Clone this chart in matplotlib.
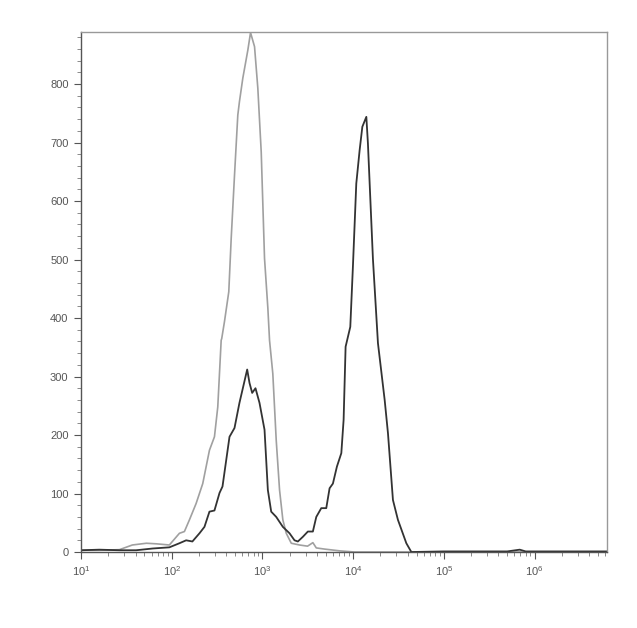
import matplotlib
matplotlib.use("Agg")
import matplotlib.pyplot as plt
from matplotlib.ticker import LogLocator, MultipleLocator, NullFormatter

plt.rcParams['font.family'] = ['Liberation Sans', 'DejaVu Sans']

# Control (gray) histogram
gray_x = [10, 15.9, 26.5, 36.8, 52.6, 67.8, 94.2, 121.6, 138, 156.8, 185.8, 219.8,
          260.6, 295.9, 321.9, 351, 356, 381.7, 425.8, 452.6, 492.3, 535.3, 558.2,
          607.7, 690.6, 739.6, 818.7, 890, 970, 1055, 1148, 1198, 1302, 1420, 1545,
          1680, 1832, 2080, 2566, 3145, 3600, 3926, 4846, 7096, 10400, 100000, 6.3e6]
gray_y = [3, 3, 4, 12, 15, 14, 12, 32, 35, 55, 83, 117,
          174, 197, 248, 362, 365, 394, 445, 536, 644, 747, 770,
          810, 858, 888, 864, 793, 684, 502, 417, 362, 305, 191, 106,
          55, 32, 15, 12, 10, 16, 7, 5, 2, 0, 0, 0]

# Stained sample (dark) histogram
dark_x = [10, 15.9, 26.5, 40.5, 61.7, 94.2, 121.6, 144.2, 169, 202.3, 229.6, 260.6,
          295.9, 336.5, 363, 433.6, 492.3, 558.2, 679.3, 720.6, 771, 838.8, 928.6,
          1055, 1148, 1250, 1420, 1680, 1991, 2260, 2460, 2793, 3170, 3600, 3926,
          4456, 5058, 5503, 5988, 6627, 7413, 7857, 8265, 9309, 9950, 10840, 11800,
          12640, 13990, 14560, 16540, 18790, 22280, 24230, 27490, 31200, 38620,
          43850, 100000, 500000, 687000, 800000, 6.3e6]
dark_y = [3, 4, 3, 3, 6, 8, 15, 20, 18, 32, 43, 69,
          71, 101, 112, 197, 212, 255, 312, 289, 272, 280, 255,
          209, 106, 69, 60, 43, 32, 20, 18, 26, 35, 35, 60,
          75, 75, 109, 117, 146, 169, 226, 351, 385, 488, 630, 687,
          727, 744, 699, 501, 357, 260, 203, 89, 55, 15,
          0, 1, 1, 4, 1, 1]

y_ticks = [0, 100, 200, 300, 400, 500, 600, 700, 800]

fig = plt.figure(figsize=(6.37, 6.28), dpi=100)
ax = fig.add_axes([0.1272, 0.121, 0.8257, 0.828])

ax.plot(gray_x, gray_y, color='#a0a0a0', lw=1.2)
ax.plot(dark_x, dark_y, color='#333333', lw=1.3)

ax.set_xscale('log')
ax.set_xlim(10, 6.3e6)
ax.set_ylim(0, 889)

ax.set_yticks(y_ticks)
ax.yaxis.set_minor_locator(MultipleLocator(20))
ax.xaxis.set_major_locator(LogLocator(base=10, numticks=20))
ax.xaxis.set_minor_locator(LogLocator(base=10, subs=range(2, 10), numticks=50))
ax.xaxis.set_minor_formatter(NullFormatter())

ax.tick_params(axis='both', which='major', direction='out', length=5, width=0.8,
               color='#555555', labelcolor='#555555', labelsize=8, pad=4)
ax.tick_params(axis='both', which='minor', direction='out', length=3, width=0.6,
               color='#777777')

for side in ['left', 'bottom']:
    ax.spines[side].set_color('#555555')
    ax.spines[side].set_linewidth(1.0)
for side in ['top', 'right']:
    ax.spines[side].set_color('#999999')
    ax.spines[side].set_linewidth(1.0)

fig.savefig('out.png', dpi=100, facecolor='white')
